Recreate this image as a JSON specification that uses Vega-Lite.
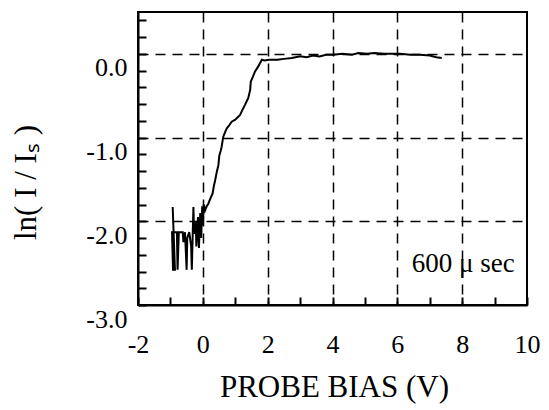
{
  "$schema": "https://vega.github.io/schema/vega-lite/v6.json",
  "width": 389,
  "height": 293,
  "autosize": "none",
  "padding": {"left": 138, "top": 12, "right": 22, "bottom": 105},
  "background": "white",
  "config": {
    "view": {"stroke": "black", "strokeWidth": 2},
    "font": "Liberation Serif",
    "axis": {
      "domainColor": "black",
      "domainWidth": 2,
      "tickColor": "black",
      "tickWidth": 2,
      "tickSize": -8,
      "labelColor": "black",
      "labelFont": "Liberation Serif",
      "labelFontSize": 26,
      "labelFlush": false,
      "labelOverlap": false,
      "titleColor": "black",
      "titleFont": "Liberation Serif",
      "titleFontWeight": "normal",
      "titleFontSize": 31,
      "gridColor": "black",
      "gridWidth": 1.5,
      "gridDash": [10, 7]
    }
  },
  "data": {
    "values": [
      {"i": 1, "bias": -0.93, "lnI": -1.83},
      {"i": 2, "bias": -0.86, "lnI": -2.58},
      {"i": 3, "bias": -0.92, "lnI": -2.58},
      {"i": 4, "bias": -0.95, "lnI": -2.13},
      {"i": 5, "bias": -0.80, "lnI": -2.13},
      {"i": 6, "bias": -0.78, "lnI": -2.58},
      {"i": 7, "bias": -0.74, "lnI": -2.13},
      {"i": 8, "bias": -0.62, "lnI": -2.13},
      {"i": 9, "bias": -0.60, "lnI": -2.25},
      {"i": 10, "bias": -0.55, "lnI": -2.13},
      {"i": 11, "bias": -0.50, "lnI": -2.58},
      {"i": 12, "bias": -0.48, "lnI": -2.20},
      {"i": 13, "bias": -0.42, "lnI": -2.13},
      {"i": 14, "bias": -0.36, "lnI": -2.30},
      {"i": 15, "bias": -0.34, "lnI": -2.58},
      {"i": 16, "bias": -0.31, "lnI": -2.13},
      {"i": 17, "bias": -0.29, "lnI": -1.83},
      {"i": 18, "bias": -0.27, "lnI": -2.15},
      {"i": 19, "bias": -0.22, "lnI": -2.00},
      {"i": 20, "bias": -0.20, "lnI": -2.30},
      {"i": 21, "bias": -0.15, "lnI": -1.95},
      {"i": 22, "bias": -0.12, "lnI": -2.32},
      {"i": 23, "bias": -0.08, "lnI": -1.90},
      {"i": 24, "bias": -0.05, "lnI": -2.20},
      {"i": 25, "bias": -0.02, "lnI": -1.82},
      {"i": 26, "bias": 0.00, "lnI": -2.05},
      {"i": 27, "bias": 0.03, "lnI": -1.80},
      {"i": 28, "bias": 0.07, "lnI": -1.87},
      {"i": 29, "bias": 0.12, "lnI": -1.82},
      {"i": 30, "bias": 0.17, "lnI": -1.79},
      {"i": 31, "bias": 0.24, "lnI": -1.72},
      {"i": 32, "bias": 0.30, "lnI": -1.67},
      {"i": 33, "bias": 0.34, "lnI": -1.58},
      {"i": 34, "bias": 0.38, "lnI": -1.51},
      {"i": 35, "bias": 0.43, "lnI": -1.41},
      {"i": 36, "bias": 0.48, "lnI": -1.33},
      {"i": 37, "bias": 0.51, "lnI": -1.21},
      {"i": 38, "bias": 0.55, "lnI": -1.16},
      {"i": 39, "bias": 0.58, "lnI": -1.11},
      {"i": 40, "bias": 0.63, "lnI": -0.99},
      {"i": 41, "bias": 0.68, "lnI": -0.94},
      {"i": 42, "bias": 0.74, "lnI": -0.89},
      {"i": 43, "bias": 0.82, "lnI": -0.85},
      {"i": 44, "bias": 0.89, "lnI": -0.81},
      {"i": 45, "bias": 0.99, "lnI": -0.79},
      {"i": 46, "bias": 1.07, "lnI": -0.76},
      {"i": 47, "bias": 1.15, "lnI": -0.73},
      {"i": 48, "bias": 1.22, "lnI": -0.67},
      {"i": 49, "bias": 1.30, "lnI": -0.61},
      {"i": 50, "bias": 1.36, "lnI": -0.56},
      {"i": 51, "bias": 1.40, "lnI": -0.53},
      {"i": 52, "bias": 1.46, "lnI": -0.43},
      {"i": 53, "bias": 1.48, "lnI": -0.33},
      {"i": 54, "bias": 1.55, "lnI": -0.27},
      {"i": 55, "bias": 1.61, "lnI": -0.21},
      {"i": 56, "bias": 1.71, "lnI": -0.15},
      {"i": 57, "bias": 1.82, "lnI": -0.07},
      {"i": 58, "bias": 1.90, "lnI": -0.08},
      {"i": 59, "bias": 2.05, "lnI": -0.07},
      {"i": 60, "bias": 2.30, "lnI": -0.07},
      {"i": 61, "bias": 2.50, "lnI": -0.06},
      {"i": 62, "bias": 2.75, "lnI": -0.05},
      {"i": 63, "bias": 3.00, "lnI": -0.03},
      {"i": 64, "bias": 3.20, "lnI": -0.04},
      {"i": 65, "bias": 3.40, "lnI": -0.02},
      {"i": 66, "bias": 3.60, "lnI": -0.03},
      {"i": 67, "bias": 3.80, "lnI": -0.01},
      {"i": 68, "bias": 4.02, "lnI": -0.01},
      {"i": 69, "bias": 4.30, "lnI": 0.00},
      {"i": 70, "bias": 4.60, "lnI": -0.01},
      {"i": 71, "bias": 4.80, "lnI": 0.01},
      {"i": 72, "bias": 5.06, "lnI": 0.00},
      {"i": 73, "bias": 5.30, "lnI": 0.01},
      {"i": 74, "bias": 5.60, "lnI": 0.00},
      {"i": 75, "bias": 5.90, "lnI": 0.00},
      {"i": 76, "bias": 6.09, "lnI": 0.00},
      {"i": 77, "bias": 6.40, "lnI": -0.01},
      {"i": 78, "bias": 6.70, "lnI": -0.01},
      {"i": 79, "bias": 7.00, "lnI": -0.02},
      {"i": 80, "bias": 7.20, "lnI": -0.04},
      {"i": 81, "bias": 7.37, "lnI": -0.05}
    ]
  },
  "layer": [
    {
      "mark": {"type": "line", "color": "black", "strokeWidth": 2, "clip": true},
      "encoding": {
        "x": {
          "field": "bias",
          "type": "quantitative",
          "scale": {"domain": [-2, 10], "nice": false, "zero": false},
          "axis": {
            "title": "PROBE BIAS (V)",
            "titleX": 196,
            "titleY": 91,
            "titleBaseline": "alphabetic",
            "values": [-2, -1, 0, 1, 2, 3, 4, 5, 6, 7, 8, 9, 10],
            "tickCount": 100,
            "labelExpr": "datum.value % 2 == 0 ? (datum.value < 0 ? '-' + (-datum.value) : '' + datum.value) : ''",
            "labelPadding": 34,
            "labelBaseline": "top",
            "grid": true,
            "gridOpacity": {"condition": {"test": "datum.value % 2 == 0 && datum.value > -2 && datum.value < 10", "value": 1}, "value": 0}
          }
        },
        "y": {
          "field": "lnI",
          "type": "quantitative",
          "scale": {"domain": [-3, 0.5], "nice": false, "zero": false},
          "axis": {
            "title": "ln( I / Iₛ )",
            "titleAngle": 270,
            "titleX": -103,
            "titleY": 170,
            "titleBaseline": "alphabetic",
            "titleAlign": "center",
            "values": [-3, -2.8, -2.6, -2.4, -2.2, -2, -1.8, -1.6, -1.4, -1.2, -1, -0.8, -0.6, -0.4, -0.2, 0, 0.2, 0.4],
            "tickCount": 100,
            "labelExpr": "abs(datum.value - round(datum.value)) < 0.000001 ? (datum.value < -0.5 ? '-' + format(-datum.value, '.1f') : '0.0') : ''",
            "labelPadding": 19,
            "labelOffset": 14,
            "grid": true,
            "gridOpacity": {"condition": {"test": "abs(datum.value - round(datum.value)) < 0.000001 && datum.value > -2.5", "value": 1}, "value": 0}
          }
        },
        "order": {"field": "i", "type": "quantitative"}
      }
    },
    {
      "data": {"values": [{"bias": 8.03, "lnI": -2.6, "label": "600 μ sec"}]},
      "mark": {"type": "text", "font": "Liberation Serif", "fontSize": 27, "align": "center", "baseline": "alphabetic", "color": "black"},
      "encoding": {
        "x": {"field": "bias", "type": "quantitative"},
        "y": {"field": "lnI", "type": "quantitative"},
        "text": {"field": "label"}
      }
    }
  ]
}
